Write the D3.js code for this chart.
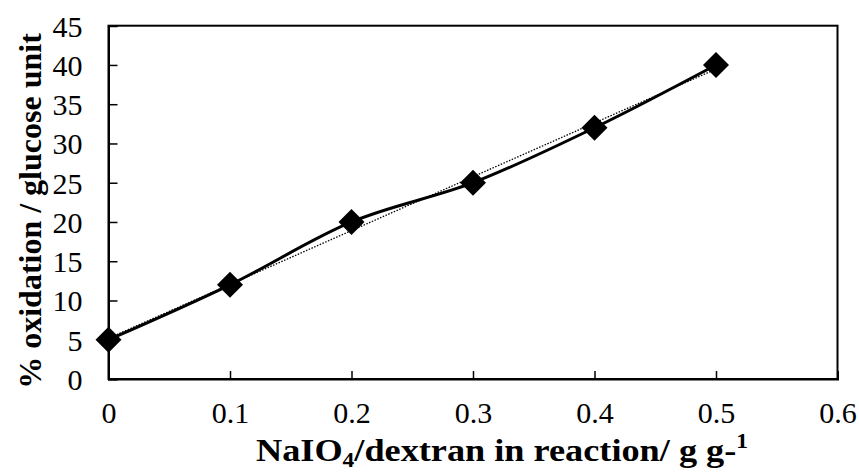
<!DOCTYPE html>
<html><head><meta charset="utf-8">
<script src="https://cdn.jsdelivr.net/npm/d3@7"></script>
<style>body{margin:0;background:#fff}svg{display:block}</style>
</head><body>
<svg id="c" width="859" height="472"></svg>
<script>
const xValues = [0, 0.1, 0.2, 0.3, 0.4, 0.5];
const yValues = [5, 12, 20, 25, 32, 40];
const xTicks = [0, 0.1, 0.2, 0.3, 0.4, 0.5, 0.6];
const yTicks = [0, 5, 10, 15, 20, 25, 30, 35, 40, 45];

const svg = d3.select("#c");
const L = 108.5, R = 837.5, T = 25.7, B = 379;
const x = d3.scaleLinear().domain([0, 0.6]).range([L, R]);
const y = d3.scaleLinear().domain([0, 45]).range([B, T]);
const font = "'Liberation Serif','Times New Roman',serif";

// frame
svg.append("rect").attr("x", L).attr("y", T).attr("width", R - L).attr("height", B - T)
  .attr("fill", "none").attr("stroke", "#000").attr("stroke-width", 2);

// axes with inward ticks
const xAxis = svg.append("g").attr("transform", `translate(0,${B})`)
  .call(d3.axisBottom(x).tickValues(xTicks).tickSize(-8).tickPadding(0).tickFormat(d => d3.format("")(d)));
const yAxis = svg.append("g").attr("transform", `translate(${L},0)`)
  .call(d3.axisLeft(y).tickValues(yTicks).tickSize(-9).tickPadding(0).tickFormat(d3.format("d")));
[xAxis, yAxis].forEach(g => {
  g.attr("font-size", null).attr("font-family", null);
  g.select(".domain").attr("stroke", "#000").attr("stroke-width", 2);
  g.selectAll(".tick line").attr("stroke", "#000").attr("stroke-width", 1.5);
  g.selectAll(".tick text").attr("fill", "#000").style("font-family", font).style("font-size", "30px");
});
xAxis.selectAll(".tick text").attr("y", 44).attr("dy", null);
yAxis.selectAll(".tick text").attr("x", -26).attr("dy", "0.35em");

// linear trendline (least squares)
const n = xValues.length;
const mx = d3.mean(xValues), my = d3.mean(yValues);
let sxy = 0, sxx = 0;
for (let i = 0; i < n; i++) { sxy += (xValues[i] - mx) * (yValues[i] - my); sxx += (xValues[i] - mx) ** 2; }
const slope = sxy / sxx, icpt = my - slope * mx;
svg.append("line")
  .attr("x1", x(xValues[0])).attr("y1", y(icpt + slope * xValues[0]))
  .attr("x2", x(xValues[n - 1])).attr("y2", y(icpt + slope * xValues[n - 1]))
  .attr("stroke", "#000").attr("stroke-width", 1.3).attr("stroke-dasharray", "1.5,1.5");

// smoothed data line
const pts = xValues.map((v, i) => [v, yValues[i]]);
svg.append("path").datum(pts)
  .attr("d", d3.line().x(d => x(d[0])).y(d => y(d[1])).curve(d3.curveCardinal.tension(0)))
  .attr("fill", "none").attr("stroke", "#000").attr("stroke-width", 3);

// diamond markers
const s = 13;
svg.selectAll(".mk").data(pts).enter().append("path")
  .attr("d", d => { const cx = x(d[0]), cy = y(d[1]); return `M${cx},${cy - s}L${cx + s},${cy}L${cx},${cy + s}L${cx - s},${cy}Z`; })
  .attr("fill", "#000");

// x title
const xt = svg.append("text").attr("x", 502).attr("y", 461).attr("text-anchor", "middle")
  .attr("textLength", 492).attr("lengthAdjust", "spacingAndGlyphs")
  .style("font-family", font).style("font-size", "31px").style("font-weight", "bold").attr("fill", "#000");
xt.append("tspan").text("NaIO");
xt.append("tspan").text("4").attr("dy", 6).style("font-size", "20px");
xt.append("tspan").text("/dextran in reaction/ g g-").attr("dy", -6);
xt.append("tspan").text("1").attr("dy", -13).style("font-size", "20px");

// y title
svg.append("text").attr("transform", `translate(41,211) rotate(-90)`)
  .attr("text-anchor", "middle").style("font-family", font).style("font-size", "32px").style("font-weight", "bold")
  .attr("fill", "#000").text("% oxidation / glucose unit");
</script>
</body></html>
